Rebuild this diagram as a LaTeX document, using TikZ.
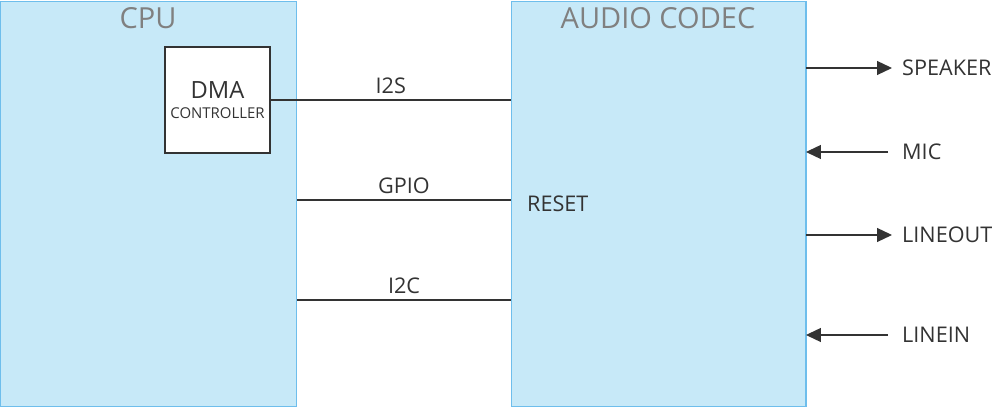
\documentclass[tikz,border=0pt]{standalone}
\usepackage{fontspec}
\setmainfont{Open Sans}
\definecolor{blockfill}{RGB}{199, 233, 248}
\definecolor{blockline}{RGB}{110, 190, 236}
\definecolor{titlegrey}{RGB}{128, 128, 128}
\definecolor{textdark}{RGB}{51, 51, 51}
\usetikzlibrary{positioning, arrows.meta}

\begin{document}
\begin{tikzpicture}[x=0.02cm, y=-0.02cm,
        block/.style={draw=blockline, fill=blockfill, line width=0.6pt, outer sep=0pt},
        title/.style={font=\fontsize{16.5}{18}\selectfont, text=titlegrey},
        sig/.style={font=\fontsize{12.3}{14}\selectfont, text=textdark},
        wire/.style={draw=textdark, line width=0.7pt},
        arrow/.style={wire, -{Triangle[length=3mm, width=2.8mm]}}
      ]
        \useasboundingbox (0,0) rectangle (995,408);
        % the two chips
        \node[block, minimum width=5.94cm, minimum height=8.12cm] (cpu)   at (148.5,204) {};
        \node[block, minimum width=5.9cm,  minimum height=8.12cm] (codec) at (658.5,204) {};
        \node[title] (cputitle)   at (148,18) {CPU};
        \node[title] (codectitle) at (658,18) {AUDIO CODEC};
        \node[draw=textdark, fill=white, line width=0.7pt, minimum width=2.1cm, minimum height=2.12cm,
              align=center, inner sep=0pt, text=textdark] (dma) at (217.5,100)
              {{\fontsize{13.5}{14}\selectfont DMA}\\[-1pt]{\fontsize{8.5}{10}\selectfont CONTROLLER}};
        % buses between cpu and codec
        \coordinate (gpioa) at (297,200);
        \coordinate (i2ca)  at (297,300);
        \draw[wire] (dma.east) -- (dma.east -| codec.west) node[sig, midway, above=0pt] {I2S};
        \draw[wire] (gpioa) -- (gpioa -| codec.west) node[sig, midway, above=0pt] {GPIO};
        \draw[wire] (i2ca) -- (i2ca -| codec.west) node[sig, midway, above=0pt] {I2C};
        \node[sig, anchor=west] (reset) at (521,204) {RESET};
        % audio ports
        \node[sig, anchor=west] (speaker) at (896,68)  {SPEAKER};
        \node[sig, anchor=west] (mic)     at (896,152) {MIC};
        \node[sig, anchor=west] (lineout) at (896,235) {LINEOUT};
        \node[sig, anchor=west] (linein)  at (896,335) {LINEIN};
        \draw[arrow] (speaker.west -| codec.east) -- ([xshift=-0.08cm]speaker.west);
        \draw[arrow] ([xshift=-0.16cm]mic.west) -- (mic.west -| codec.east);
        \draw[arrow] (lineout.west -| codec.east) -- ([xshift=-0.08cm]lineout.west);
        \draw[arrow] ([xshift=-0.16cm]linein.west) -- (linein.west -| codec.east);
      \end{tikzpicture}
\end{document}
